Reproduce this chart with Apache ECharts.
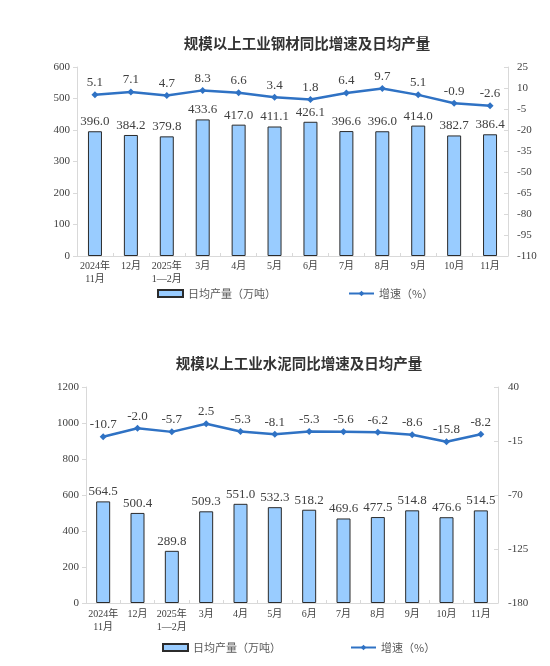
<!DOCTYPE html>
<html>
<head>
<meta charset="utf-8">
<script src="https://cdn.jsdelivr.net/npm/echarts@6/dist/echarts.min.js"></script>
<style>
html,body{margin:0;padding:0;background:#fff;}
#c1,#c2{width:550px;height:333px;}
</style>
</head>
<body>
<div id="c1"></div>
<div id="c2"></div>
<script type="text/javascript">
	// 横轴月份
	var months = ['2024年\n11月','12月','2025年\n1—2月','3月','4月','5月','6月','7月','8月','9月','10月','11月'];
	// 钢材
	var steelOutput = [396.0,384.2,379.8,433.6,417.0,411.1,426.1,396.6,396.0,414.0,382.7,386.4];
	var steelGrowth = [5.1,7.1,4.7,8.3,6.6,3.4,1.8,6.4,9.7,5.1,-0.9,-2.6];
	var steelRightTicks = [-110,-95,-80,-65,-50,-35,-20,-5,10,25];
	// 水泥
	var cementOutput = [564.5,500.4,289.8,509.3,551.0,532.3,518.2,469.6,477.5,514.8,476.6,514.5];
	var cementGrowth = [-10.7,-2.0,-5.7,2.5,-5.3,-8.1,-5.3,-5.6,-6.2,-8.6,-15.8,-8.2];
	var cementRightTicks = [-180,-125,-70,-15,40];

	var serif = "'Liberation Serif','Noto Sans CJK SC'";
	var axisGray = '#d9d9d9';
	var textColor = '#404040';
	var lineColor = '#2f72c4';

	function fmt(v){ return v.value.toFixed(1); }
	function plain(v){ return String(v); }

	function makeOption(s){
		var legendText = {fontFamily:'Noto Sans CJK SC',fontSize:11,color:'#595959'};
		return {
			animation:false,
			title:{
				text:s.title,
				left:s.titleX,
				top:s.titleTop,
				textAlign:'center',
				textStyle:{fontFamily:'Noto Sans CJK SC',fontSize:14.5,fontWeight:'bold',color:'#333'}
			},
			legend:[
				{
					data:[{name:'日均产量（万吨）',icon:'rect'}],
					left:s.legendBarX,
					top:s.legendTop,
					itemWidth:25,
					itemHeight:7,
					textStyle:legendText
				},
				{
					data:['增速（%）'],
					left:s.legendLineX,
					top:s.legendTop,
					itemWidth:25,
					itemHeight:7,
					textStyle:legendText
				}
			],
			grid:{left:s.left,right:s.right,top:s.top,height:s.height},
			xAxis:{
				type:'category',
				data:months,
				axisLine:{lineStyle:{color:axisGray}},
				axisTick:{show:true,inside:true,length:3,lineStyle:{color:axisGray}},
				axisLabel:{interval:0,margin:s.xMargin,fontFamily:serif,fontSize:10,lineHeight:13,color:textColor}
			},
			yAxis:[
				{
					type:'value',
					min:0,
					max:s.leftMax,
					interval:s.leftInterval,
					axisLine:{show:true,lineStyle:{color:axisGray}},
					axisTick:{show:true,length:4,lineStyle:{color:axisGray}},
					splitLine:{show:false},
					axisLabel:{margin:7,formatter:plain,fontFamily:serif,fontSize:11,color:textColor}
				},
				{
					type:'value',
					min:s.rightTicks[0],
					max:s.rightTicks[s.rightTicks.length-1],
					axisLine:{show:true,lineStyle:{color:axisGray}},
					axisTick:{show:true,inside:true,length:4,customValues:s.rightTicks,lineStyle:{color:axisGray}},
					splitLine:{show:false},
					axisLabel:{margin:s.rightMargin,customValues:s.rightTicks,formatter:plain,fontFamily:serif,fontSize:11,color:textColor}
				}
			],
			series:[
				{
					name:'日均产量（万吨）',
					type:'bar',
					barWidth:14,
					data:s.bars,
					itemStyle:{color:'#99ccff',borderColor:'#2b2b2b',borderWidth:1},
					label:{show:true,position:'top',distance:3,formatter:fmt,fontFamily:serif,fontSize:13,color:textColor}
				},
				{
					name:'增速（%）',
					type:'line',
					yAxisIndex:1,
					data:s.line,
					symbol:'diamond',
					symbolSize:7,
					lineStyle:{color:lineColor,width:2.5},
					itemStyle:{color:lineColor},
					label:{show:true,position:'top',distance:2,formatter:fmt,fontFamily:serif,fontSize:13,color:textColor}
				}
			]
		};
	}

	var chart1 = echarts.init(document.getElementById('c1'));
	chart1.setOption(makeOption({
		title:'规模以上工业钢材同比增速及日均产量',
		titleX:302, titleTop:31,
		legendBarX:152, legendLineX:343, legendTop:283,
		left:77, right:42, top:67, height:189,
		xMargin:4, rightMargin:9,
		leftMax:600, leftInterval:100,
		rightTicks:steelRightTicks,
		bars:steelOutput, line:steelGrowth
	}));

	var chart2 = echarts.init(document.getElementById('c2'));
	chart2.setOption(makeOption({
		title:'规模以上工业水泥同比增速及日均产量',
		titleX:294, titleTop:18,
		legendBarX:157, legendLineX:345, legendTop:304,
		left:86, right:52, top:54, height:216,
		xMargin:5, rightMargin:10,
		leftMax:1200, leftInterval:200,
		rightTicks:cementRightTicks,
		bars:cementOutput, line:cementGrowth
	}));
</script>
</body>
</html>
